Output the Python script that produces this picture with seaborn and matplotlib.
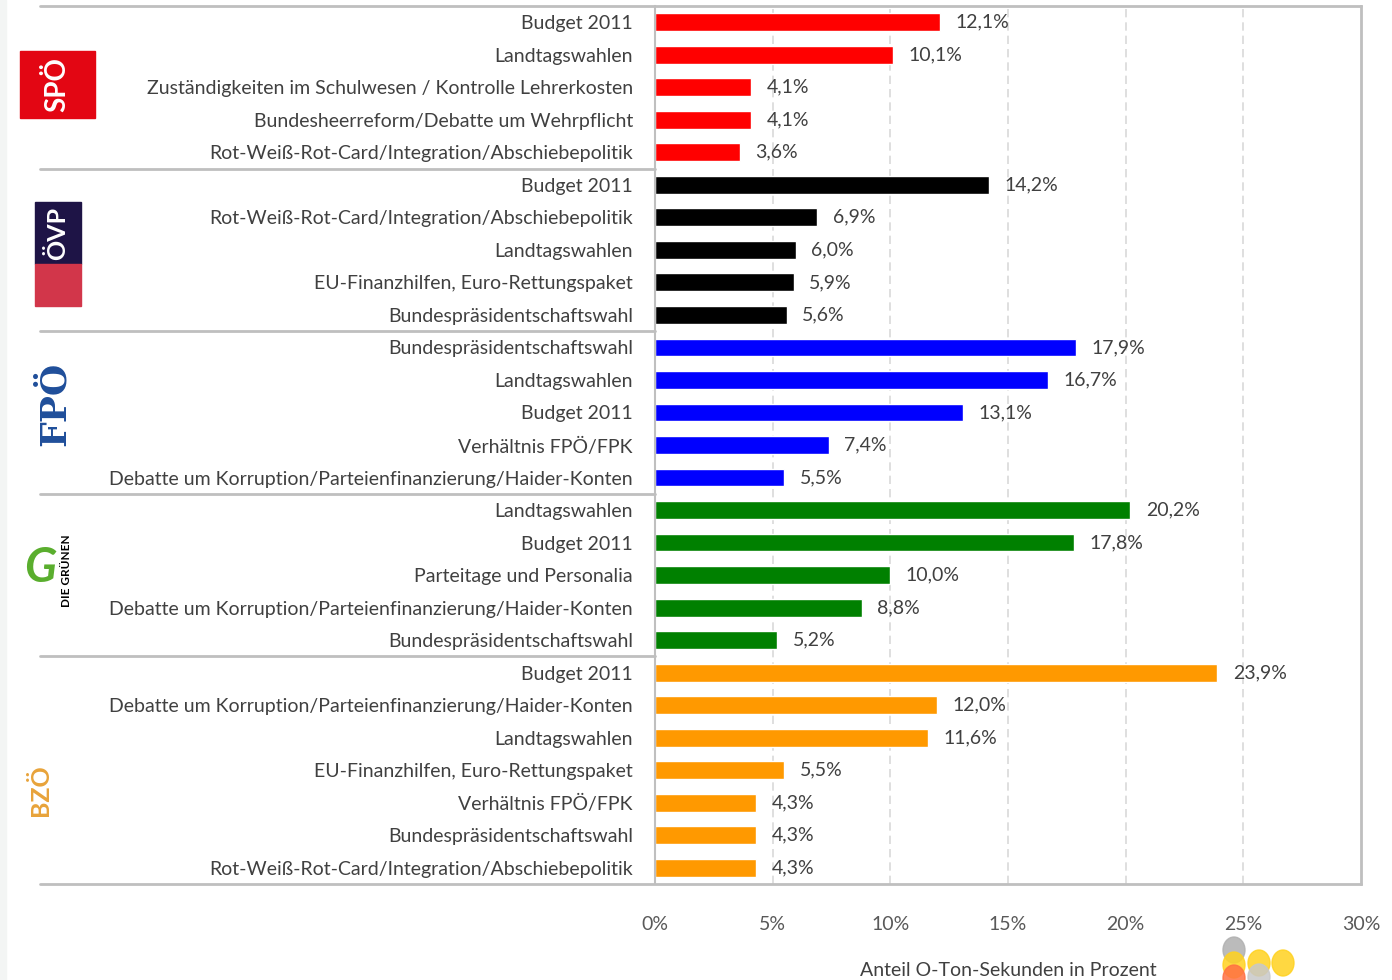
import seaborn as sns
import matplotlib
matplotlib.use('Agg')
import matplotlib.pyplot as plt
from matplotlib.patches import Rectangle, Ellipse
import pandas as pd

# data, top to bottom
parties = ['SPÖ'] * 5 + ['ÖVP'] * 5 + ['FPÖ'] * 5 + ['Grüne'] * 5 + ['BZÖ'] * 7
topics = [
    'Budget 2011', 'Landtagswahlen',
    'Zuständigkeiten im Schulwesen / Kontrolle Lehrerkosten',
    'Bundesheerreform/Debatte um Wehrpflicht',
    'Rot-Weiß-Rot-Card/Integration/Abschiebepolitik',
    'Budget 2011', 'Rot-Weiß-Rot-Card/Integration/Abschiebepolitik',
    'Landtagswahlen', 'EU-Finanzhilfen, Euro-Rettungspaket',
    'Bundespräsidentschaftswahl',
    'Bundespräsidentschaftswahl', 'Landtagswahlen', 'Budget 2011',
    'Verhältnis FPÖ/FPK',
    'Debatte um Korruption/Parteienfinanzierung/Haider-Konten',
    'Landtagswahlen', 'Budget 2011', 'Parteitage und Personalia',
    'Debatte um Korruption/Parteienfinanzierung/Haider-Konten',
    'Bundespräsidentschaftswahl',
    'Budget 2011',
    'Debatte um Korruption/Parteienfinanzierung/Haider-Konten',
    'Landtagswahlen', 'EU-Finanzhilfen, Euro-Rettungspaket',
    'Verhältnis FPÖ/FPK', 'Bundespräsidentschaftswahl',
    'Rot-Weiß-Rot-Card/Integration/Abschiebepolitik',
]
shares = [12.1, 10.1, 4.1, 4.1, 3.6,
          14.2, 6.9, 6.0, 5.9, 5.6,
          17.9, 16.7, 13.1, 7.4, 5.5,
          20.2, 17.8, 10.0, 8.8, 5.2,
          23.9, 12.0, 11.6, 5.5, 4.3, 4.3, 4.3]
party_colors = {'SPÖ': '#FF0000', 'ÖVP': '#000000', 'FPÖ': '#0000FF',
                'Grüne': '#008000', 'BZÖ': '#FF9900'}
x_ticks = [0, 5, 10, 15, 20, 25, 30]

df = pd.DataFrame({'row': [str(i) for i in range(len(shares))],
                   'party': parties, 'topic': topics, 'share': shares})

sns.set_style('white')
plt.rcParams['font.family'] = ['Lato', 'DejaVu Sans']
FS = 14

fig = plt.figure(figsize=(13.92, 9.8), dpi=100)
W, H = 1392, 980
ax = fig.add_axes([655 / W, 1 - 884 / H, (1361 - 655) / W, (884 - 6) / H])

sns.barplot(data=df, y='row', x='share', hue='party', palette=party_colors,
            dodge=False, width=0.55, saturation=1, legend=False, ax=ax,
            orient='h')

ax.set_xlim(0, 30)
ax.set_ylim(len(shares) - 0.5, -0.5)
ax.set_xticks(x_ticks)
ax.set_xticklabels([f'{t}%' for t in x_ticks], fontsize=FS, color='#595959')
ax.tick_params(axis='x', length=0, pad=23)
ax.set_yticks(range(len(shares)))
ax.set_yticklabels(topics, fontsize=FS, color='#404040')
ax.tick_params(axis='y', length=0, pad=16)
ax.set_ylabel('')
ax.set_xlabel('Anteil O-Ton-Sekunden in Prozent', fontsize=FS,
              color='#404040', labelpad=21)

for t in [5, 10, 15, 20, 25]:
    ax.axvline(t, color='#D9D9D9', lw=1.2, ls=(0, (5, 3)), zorder=0)

for s in ['top', 'bottom']:
    ax.spines[s].set_visible(False)
ax.spines['left'].set_color('#BFBFBF')
ax.spines['left'].set_linewidth(1.5)
ax.spines['right'].set_color('#BFBFBF')
ax.spines['right'].set_linewidth(2)

for i, v in enumerate(shares):
    ax.text(v + 0.65, i, f'{v:.1f}%'.replace('.', ','), va='center', ha='left',
            fontsize=FS, color='#404040')

# group separators
x0 = (40 - 655) / (1361 - 655) * 30
bounds = [-0.5, 4.5, 9.5, 14.5, 19.5, len(shares) - 0.5]
for k, b in enumerate(bounds):
    x1 = 30 if k in (0, len(bounds) - 1) else 0
    ax.plot([x0, x1], [b, b], color='#BFBFBF', lw=2, clip_on=False, zorder=5)

# party logos (approximations)
def fbox(x, y, w, h, **kw):
    fig.patches.append(Rectangle((x / W, 1 - (y + h) / H), w / W, h / H,
                                 transform=fig.transFigure, **kw))

fig.patches.append(Rectangle((0, 0), 6 / W, 1, transform=fig.transFigure,
                             color='#F3F5F4', zorder=0))
fbox(20, 51, 75, 67, color='#E30613')
fig.text(57 / W, 1 - 85 / H, 'SPÖ', rotation=90, color='white', fontsize=20,
         fontweight='bold', ha='center', va='center')
fbox(35, 202, 46, 62, color='#1E1446')
fbox(35, 264, 46, 42, color='#D2364A')
fig.text(58 / W, 1 - 233 / H, 'ÖVP', rotation=90, color='white', fontsize=18,
         fontweight='bold', ha='center', va='center')
fig.text(55 / W, 1 - 404 / H, 'FPÖ', rotation=90, color='#1F4E9A', fontsize=26,
         fontweight='bold', family='DejaVu Serif', ha='center', va='center')
fig.text(40 / W, 1 - 568 / H, 'G', color='#5AAE2E', fontsize=34,
         fontweight='bold', style='italic', ha='center', va='center')
fig.text(66 / W, 1 - 571 / H, 'DIE GRÜNEN', rotation=90, color='black',
         fontsize=8.5, fontweight='bold', ha='center', va='center')
fig.text(40 / W, 1 - 790 / H, 'BZÖ', rotation=90, color='#E8A33A', fontsize=18,
         fontweight='bold', ha='center', va='center')

# corner decoration
for (cx, cy, c) in [(1234, 950, '#B0B0B0'), (1234, 965, '#FFD21F'),
                    (1259, 963, '#FFD21F'), (1283, 963, '#FFD21F'),
                    (1234, 978, '#FF7043'), (1259, 977, '#C8C8C8')]:
    fig.patches.append(Ellipse((cx / W, 1 - cy / H), 22 / W, 26 / H,
                               transform=fig.transFigure, color=c, alpha=0.85))

fig.savefig('out.png', dpi=100)
